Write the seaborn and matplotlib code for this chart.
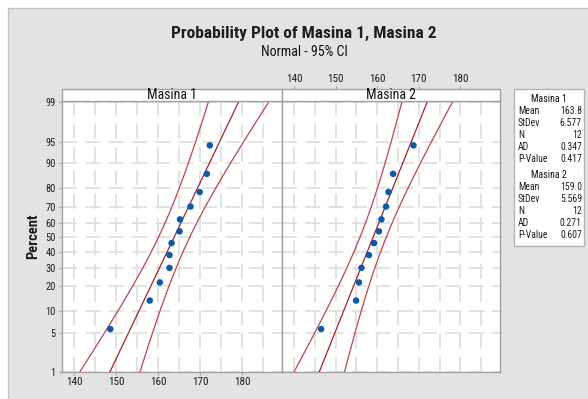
import matplotlib
matplotlib.use("Agg")
import matplotlib.pyplot as plt
import matplotlib.font_manager as fm
from matplotlib.patches import Rectangle
from statistics import NormalDist
import numpy as np
import pandas as pd
import seaborn as sns

# data
masina1 = [148.6, 158.0, 160.4, 162.7, 162.7, 163.2, 165.1, 165.2, 167.7, 169.9, 171.6, 172.3]
masina2 = [146.5, 154.9, 155.6, 156.2, 158.0, 159.2, 160.4, 161.0, 162.1, 162.7, 163.8, 168.7]
names = ["Masina 1", "Masina 2"]
means = [163.8, 159.0]
stdevs = [6.577, 5.569]
ns = [12, 12]
ads = [0.347, 0.271]
pvals = [0.417, 0.607]
pct_ticks = [1, 5, 10, 20, 30, 40, 50, 60, 70, 80, 90, 95, 99]
x_ticks = [140, 150, 160, 170, 180]

W, H = 588, 399
nd = NormalDist()
z = lambda p: nd.inv_cdf(p)

sns.set_theme(style="white")
entries = fm.fontManager.ttflist
avail = {f.name for f in entries}
stretch = "normal"
if "Liberation Sans Narrow" in avail:
    fam = "Liberation Sans Narrow"
elif "Roboto Condensed" in avail:
    fam = "Roboto Condensed"
elif any(f.name == "DejaVu Sans" and "ondensed" in str(f.stretch) for f in entries):
    fam, stretch = "DejaVu Sans", "condensed"
else:
    fam = "Lato"
plt.rcParams["font.family"] = [fam, "DejaVu Sans"]
plt.rcParams["font.stretch"] = stretch
txt = "#1e1e1e"
red = "#a3232a"
blue = "#0b5aa8"
frame = "#a2a2a2"


def fx(px):
    return px / W


def fy(py):
    return 1 - py / H


fig = plt.figure(figsize=(W / 100, H / 100), dpi=100, facecolor="white")
bg = Rectangle((fx(8), -0.02), 1.05, fy(8) + 0.02, transform=fig.transFigure,
               facecolor="#e3e3e3", edgecolor="#c4c4c4", lw=1, zorder=-5)
fig.patches.append(bg)

top_px, bot_px = 100.7, 372
panels = [(62, 282), (282, 500)]
ylo, yhi = z(0.01), z(0.99) + 0.03
axes = []
for i, (l, r) in enumerate(panels):
    ax = fig.add_axes([fx(l), fy(bot_px), (r - l) / W, (bot_px - top_px) / H])
    ax.set_facecolor("white")
    ax.set_zorder(2)
    axes.append(ax)

for i, (ax, vals) in enumerate(zip(axes, [masina1, masina2])):
    n = len(vals)
    df = pd.DataFrame({"x": sorted(vals)})
    df["z"] = [z((k - 0.3) / (n + 0.4)) for k in range(1, n + 1)]

    zz = np.linspace(-3.2, 3.2, 200)
    fit = means[i] + zz * stdevs[i]
    half = 1.96 * stdevs[i] * np.sqrt(1 / ns[i] + zz ** 2 / (2 * ns[i]))
    lines = pd.DataFrame({"z": zz, "fit": fit, "lo": fit - half, "hi": fit + half})

    for col, c, lw in [("lo", "#b8474c", 0.9), ("hi", "#b8474c", 0.9), ("fit", red, 0.9)]:
        sns.lineplot(data=lines, x=col, y="z", ax=ax, color=c, lw=lw, sort=False,
                     estimator=None, zorder=3)
    sns.scatterplot(data=df, x="x", y="z", ax=ax, color=blue, s=22, edgecolor="none",
                    zorder=4)

    ax.set_xlim(137.1, 189.5)
    ax.set_ylim(ylo, yhi)
    ax.set_xlabel("")
    ax.set_ylabel("")
    ax.set_xticks(x_ticks)
    ax.set_xticks([145, 155, 165, 175, 185], minor=True)
    ax.set_yticks([z(p / 100) for p in pct_ticks])
    ax.grid(True, which="both", color="#dedede", lw=1.2, ls=(0, (9, 5)))
    ax.set_axisbelow(True)
    for s in ax.spines.values():
        s.set_color(frame)
        s.set_linewidth(1)
    ax.tick_params(which="minor", length=0)

    # strip header
    l, r = panels[i]
    fig.patches.append(Rectangle((fx(l), fy(top_px)), (r - l) / W, 11.4 / H,
                                 transform=fig.transFigure, facecolor="white",
                                 edgecolor=frame, lw=1, zorder=2))
    fig.text(fx((l + r) / 2), fy(95), names[i], ha="center", va="center",
             fontsize=10, color="#111111", zorder=3)

# left panel: y ticks and bottom x ticks
a1, a2 = axes
a1.set_yticklabels([str(p) for p in pct_ticks])
a1.tick_params(axis="y", which="major", left=True, length=2.5, width=0.8, color=frame,
               pad=2, labelsize=7.5, labelcolor=txt)
a1.tick_params(axis="x", which="major", bottom=True, length=2, width=0.8, color=frame,
               pad=1.5, labelsize=8, labelcolor=txt)
a1.set_ylabel("Percent", fontsize=10.5, color=txt, labelpad=4, weight="bold")

a2.tick_params(axis="both", which="major", length=0, labelleft=False, labelbottom=False)

# right panel: x axis on top, above the strip
sec = a2.secondary_xaxis(1 + 11.4 / (bot_px - top_px))
sec.set_xticks(x_ticks)
sec.tick_params(length=2.5, width=0.8, color=frame, pad=1.5, labelsize=8, labelcolor=txt)
sec.spines["top"].set_visible(False)

# titles
fig.text(fx(304), fy(33), "Probability Plot of Masina 1, Masina 2", ha="center",
         va="center", fontsize=12.5, color=txt, weight="bold")
fig.text(fx(304), fy(52), "Normal - 95% CI", ha="center", va="center", fontsize=10,
         color="#111111")

# stats box
fig.patches.append(Rectangle((fx(514), fy(246)), 70 / W, 157 / H, transform=fig.transFigure,
                             facecolor="white", edgecolor="#b4b4b4", lw=1, zorder=2))
y0 = [99, 175]
for i in range(2):
    fig.text(fx(549), fy(y0[i]), names[i], ha="center", va="center", fontsize=7.2,
             color="#111111", zorder=3)
    rows = [("Mean", f"{means[i]:.1f}"), ("StDev", f"{stdevs[i]:.3f}"), ("N", str(ns[i])),
            ("AD", f"{ads[i]:.3f}"), ("P-Value", f"{pvals[i]:.3f}")]
    for k, (lab, val) in enumerate(rows):
        yy = y0[i] + 11.5 + 12 * k
        fig.text(fx(518), fy(yy), lab, ha="left", va="center", fontsize=7, color=txt,
                 zorder=3)
        fig.text(fx(582), fy(yy), val, ha="right", va="center", fontsize=7, color=txt,
                 zorder=3)

fig.savefig("out.png", dpi=100, facecolor=fig.get_facecolor())
